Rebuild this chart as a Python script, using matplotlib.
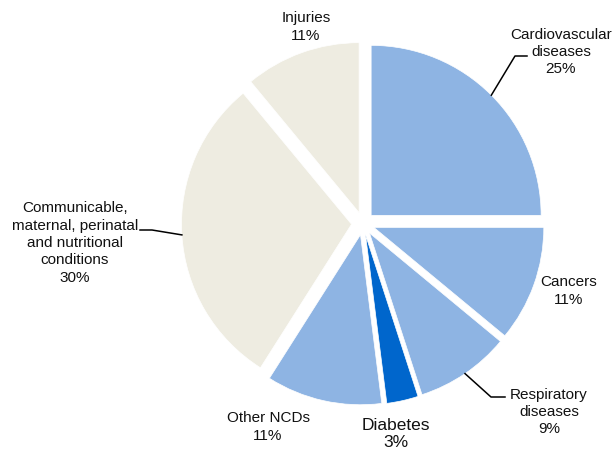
import numpy as np
import matplotlib
matplotlib.use("Agg")
import matplotlib.pyplot as plt

plt.rcParams['font.family'] = ['Liberation Sans', 'DejaVu Sans']

labels = ["Cardiovascular\ndiseases", "Cancers", "Respiratory\ndiseases", "Diabetes",
          "Other NCDs", "Communicable,\nmaternal, perinatal\nand nutritional\nconditions", "Injuries"]
shares = [25, 11, 9, 3, 11, 30, 11]
colors = ["#8EB4E3", "#8EB4E3", "#8EB4E3", "#0066CC", "#8EB4E3", "#EEECE1", "#EEECE1"]

# label positions (pixel coords, y down) and leader knee points
label_pos = [(561, 52), (569, 291), (549, 412), (396, 434), (268, 427), (75, 243), (306, 27)]
leaders = {0: (515, 57, 527), 2: (491, 398, 505), 5: (152, 231, 140)}

W, H = 612, 452
fig = plt.figure(figsize=(W / 100, H / 100), dpi=100)
ax = fig.add_axes([0, 0, 1, 1])

cx, cy, R = 363, H - 224.5, 170
explode = [11.5] * len(shares)
wedges, _ = ax.pie(shares, colors=colors, startangle=90, counterclock=False,
                   radius=R, center=(cx, cy), explode=explode, frame=True,
                   wedgeprops=dict(edgecolor='white', linewidth=0.5))
ax.set_xlim(0, W)
ax.set_ylim(0, H)
ax.axis('off')

for i, (lab, s) in enumerate(zip(labels, shares)):
    x, y = label_pos[i]
    big = lab == "Diabetes"
    ax.text(x, H - y, f"{lab}\n{s}%", ha='center', va='center',
            fontsize=12.5 if big else 11, linespacing=1.1 if big else 1.3,
            color='#111111')
    if i in leaders:
        w = wedges[i]
        ang = np.deg2rad((w.theta1 + w.theta2) / 2)
        ex = w.center[0] + R * np.cos(ang)
        ey = w.center[1] + R * np.sin(ang)
        kx, ky, tx = leaders[i]
        ax.plot([ex, kx, tx], [ey, H - ky, H - ky], color='black', lw=1.1)

fig.savefig("out.png", dpi=100)
